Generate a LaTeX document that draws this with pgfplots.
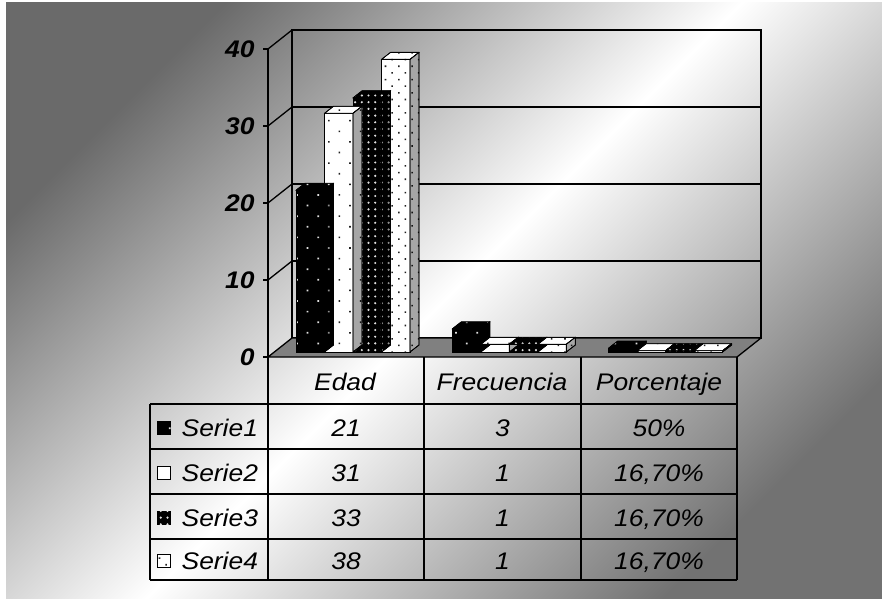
\documentclass[border=0pt]{standalone}
\usepackage{pgfplots}
\pgfplotsset{compat=1.18}
\usepackage{pgfplotstable}
\usepackage{fontspec}
\setmainfont{Liberation Sans}[FakeStretch=1.1]
\usetikzlibrary{patterns.meta}

\definecolor{bgTL}{HTML}{6A6A6A}
\definecolor{bgBR}{HTML}{727272}
\definecolor{floorgray}{HTML}{808080}
\definecolor{dotlight}{HTML}{E0E0E0}
\definecolor{dotdark}{HTML}{202020}

% Edad, Frecuencia, Porcentaje (porcentaje como fraccion)
\pgfplotstableread{
cat s1 s2 s3 s4
0 21 31 33 38
1 3 1 1 1
2 0.5 0.167 0.167 0.167
}\datatable

\tikzset{
  serA/.style={fill=black, postaction={pattern={Dots[distance=15pt,angle=45,radius=1.2pt]}, pattern color=dotlight}},
  serB/.style={fill=white, postaction={pattern={Dots[distance=15pt,angle=45,radius=1.1pt]}, pattern color=dotdark}},
  serC/.style={fill=black, postaction={pattern={Dots[distance=6.7pt,radius=1.2pt]}, pattern color=dotlight}},
  serD/.style={fill=white, postaction={pattern={Dots[distance=9.4pt,angle=45,radius=1.1pt]}, pattern color=dotdark}},
  edge/.style={draw=black, line width=0.8pt, line join=round},
  tabtext/.style={font=\itshape\fontsize{24}{24}\selectfont, text height=17pt, text depth=0pt, inner sep=0pt},
  keybox/.style={draw=black, line width=0.9pt, minimum size=13pt, inner sep=0pt},
}

\pgfdeclareplotmark{cubenone}{}

% top and right faces of a 3-D bar; #1 = left edge of the front face (pt from the category centre)
\newcommand\cubeparts[2]{%
  \pgfmathsetlengthmacro\hgt{\vh*7.7pt}%
  \path[#2] ({#1pt},0pt) -- ++(28.5pt,0pt) -- ++(9pt,7pt) -- ++(-28.5pt,0pt) -- cycle;
  \draw[edge] ({#1pt},0pt) -- ++(28.5pt,0pt) -- ++(9pt,7pt) -- ++(-28.5pt,0pt) -- cycle;
  \path[#2] ({#1pt+28.5pt},0pt) -- ++(0pt,-\hgt) -- ++(9pt,7pt) -- ++(0pt,\hgt) -- cycle;
  \fill[black, opacity=0.35] ({#1pt+28.5pt},0pt) -- ++(0pt,-\hgt) -- ++(9pt,7pt) -- ++(0pt,\hgt) -- cycle;
  \draw[edge] ({#1pt+28.5pt},0pt) -- ++(0pt,-\hgt) -- ++(9pt,7pt) -- ++(0pt,\hgt) -- cycle;
}

\pgfplotsset{
  cube/.style n args={2}{scatter, only marks, mark=cubenone,
    visualization depends on={rawy \as \vh},
    scatter/@pre marker code/.code={\cubeparts{#1}{#2}},
    scatter/@post marker code/.code={}},
}

\begin{document}
\begin{tikzpicture}
\useasboundingbox (0,0) rectangle (882pt,598pt);

% background
\begin{scope}[yshift=598pt, x=1pt, y=-1pt]
  \fill[white] (0,0) rectangle (882,598);
  \shade[top color=bgTL, bottom color=bgBR, middle color=white, shading angle=45] (6,3) rectangle (882,598);
\end{scope}

% back wall with gridlines
\begin{axis}[
  anchor=south west, at={(292pt,260pt)},
  x=1pt, y=7.7pt, xmin=0, xmax=469, ymin=0, ymax=40,
  xtick=\empty, ytick={10,20,30}, yticklabels={},
  major tick length=0pt,
  ymajorgrids, grid style={black, line width=1.1pt},
  axis line style={black, line width=1.3pt},
]
\end{axis}

% side wall and floor
\begin{scope}[yshift=598pt, x=1pt, y=-1pt, line width=1.3pt]
  \foreach \k in {1,2,3,4} {
    \draw[black] (268,{357-77*\k}) -- (292,{338-77*\k});
  }
  \filldraw[fill=floorgray, draw=black, line join=round] (268,357) -- (737,357) -- (761,338) -- (292,338) -- cycle;
\end{scope}

% front value axis
\begin{axis}[
  anchor=south west, at={(268pt,241pt)},
  x=1pt, y=7.7pt, xmin=0, xmax=469, ymin=0, ymax=40,
  axis x line=none, axis y line*=left,
  axis line style={-, black, line width=1.3pt},
  xtick=\empty, ytick={0,10,20,30,40},
  tick align=outside, major tick length=5pt,
  ytick style={black, line width=1.3pt},
  yticklabel style={font=\bfseries\itshape\fontsize{24}{24}\selectfont, xshift=-5pt},
  /pgf/number format/assume math mode=true,
  clip=false,
]
\end{axis}

% bars
\begin{axis}[
  anchor=south west, at={(274.85pt,246pt)},
  x=156.3pt, y=7.7pt, xmin=-0.5, xmax=2.5, ymin=0, ymax=40,
  hide axis, clip=false,
]
\addplot[ybar, bar width=28.5pt, bar shift=-42.75pt, serA, edge] table[x=cat, y=s1] {\datatable};
\addplot[cube={-57}{serA}] table[x=cat, y=s1] {\datatable};
\addplot[ybar, bar width=28.5pt, bar shift=-14.25pt, serB, edge] table[x=cat, y=s2] {\datatable};
\addplot[cube={-28.5}{serB}] table[x=cat, y=s2] {\datatable};
\addplot[ybar, bar width=28.5pt, bar shift=14.25pt, serC, edge] table[x=cat, y=s3] {\datatable};
\addplot[cube={0}{serC}] table[x=cat, y=s3] {\datatable};
\addplot[ybar, bar width=28.5pt, bar shift=42.75pt, serD, edge] table[x=cat, y=s4] {\datatable};
\addplot[cube={28.5}{serD}] table[x=cat, y=s4] {\datatable};
\end{axis}

% data table
\begin{scope}[yshift=598pt, x=1pt, y=-1pt, line width=1.3pt]
  \foreach \y in {404,449,494,539,580} \draw (150,\y) -- (737,\y);
  \draw (150,404) -- (150,580);
  \foreach \x in {268,424,581,737} \draw (\x,357) -- (\x,580);
  \node[tabtext] at (345,382) {Edad};
  \node[tabtext] at (502,382) {Frecuencia};
  \node[tabtext] at (659,382) {Porcentaje};
  \node[keybox, serA] at (164,428) {};
  \node[keybox, fill=white] at (164,473) {};
  \node[keybox, serC] at (164,518) {};
  \node[keybox, serD] at (164,561) {};
  \node[tabtext, anchor=west] at (181,428) {Serie1};
  \node[tabtext, anchor=west] at (181,473) {Serie2};
  \node[tabtext, anchor=west] at (181,518) {Serie3};
  \node[tabtext, anchor=west] at (181,561) {Serie4};
  \node[tabtext] at (346,428) {21};
  \node[tabtext] at (346,473) {31};
  \node[tabtext] at (346,518) {33};
  \node[tabtext] at (346,561) {38};
  \node[tabtext] at (502.5,428) {3};
  \node[tabtext] at (502.5,473) {1};
  \node[tabtext] at (502.5,518) {1};
  \node[tabtext] at (502.5,561) {1};
  \node[tabtext] at (659,428) {50\%};
  \node[tabtext] at (659,473) {16,70\%};
  \node[tabtext] at (659,518) {16,70\%};
  \node[tabtext] at (659,561) {16,70\%};
\end{scope}
\end{tikzpicture}
\end{document}
